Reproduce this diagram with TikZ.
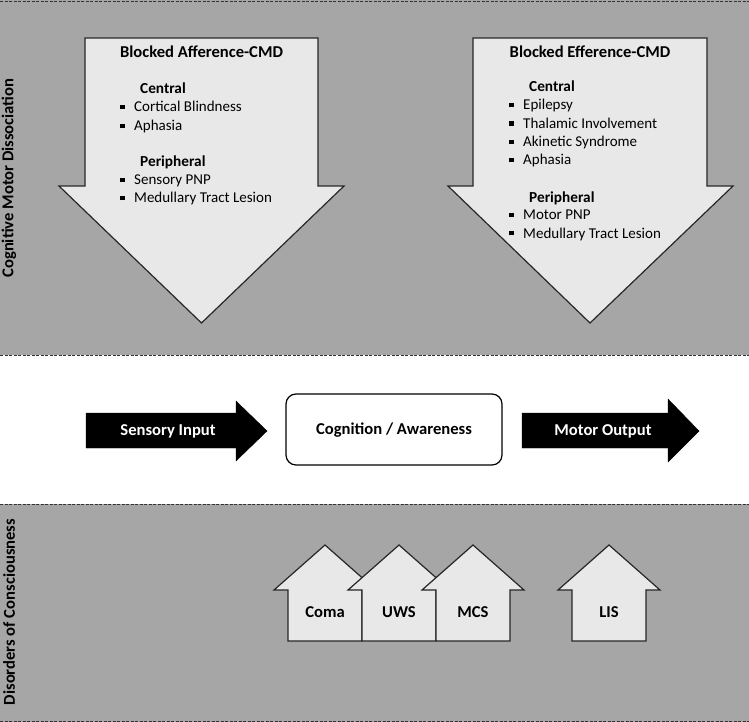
\documentclass[tikz,border=0pt]{standalone}
\usepackage{fontspec}
\setmainfont{Carlito}
\definecolor{panelgray}{RGB}{166,166,166}
\definecolor{boxgray}{RGB}{232,232,232}
\tikzset{
  blockarrow/.style={draw=black!85,fill=boxgray,line width=1.2pt,line join=miter},
  flowarrow/.style={fill=black,draw=black},
  divider/.style={black!80,line width=0.9pt,dash pattern=on 3pt off 1.5pt},
  title/.style={font=\fontsize{16.6}{18}\selectfont\bfseries,inner sep=0pt},
  subtitle/.style={font=\fontsize{15.3}{17}\selectfont\bfseries,anchor=base west,inner sep=0pt},
  item/.style={font=\fontsize{15}{17}\selectfont,anchor=base west,inner sep=0pt},
  sidelabel/.style={font=\fontsize{16.6}{18}\selectfont\bfseries,rotate=90,inner sep=0pt},
}
\newcommand{\bul}{\raisebox{2.6pt}{\rule{4.4pt}{4.4pt}}\hspace{9.6pt}}
\begin{document}
\begin{tikzpicture}[x=1pt,y=-1pt]
  \useasboundingbox (0,0) rectangle (749,722);
  % panels
  \fill[panelgray] (0,0) rectangle (749,355);
  \fill[panelgray] (0,504) rectangle (749,722);
  \draw[divider] (0,1) -- (749,1);
  \draw[divider] (0,355) -- (749,355);
  \draw[divider] (0,504) -- (749,504);
  \draw[divider] (0,721) -- (749,721);
  \node[sidelabel] (cmd) at (9,178) {Cognitive Motor Dissociation};
  \node[sidelabel] (doc) at (9,612) {Disorders of Consciousness};
  % blocked afference
  \draw[blockarrow] (85,38) -- (318,38) -- (318,186) -- (344,186) -- (201.5,323)
    -- (59,186) -- (85,186) -- cycle;
  \node[title] (aff) at (201.5,52) {Blocked Afference-CMD};
  \node[subtitle] (affc) at (140,94) {Central};
  \node[item] (aff1) at (120,112) {\bul Cortical Blindness};
  \node[item] (aff2) at (120,131) {\bul Aphasia};
  \node[subtitle] (affp) at (140,167) {Peripheral};
  \node[item] (aff3) at (120,185) {\bul Sensory PNP};
  \node[item] (aff4) at (120,203) {\bul Medullary Tract Lesion};
  % blocked efference
  \draw[blockarrow] (473,38) -- (707,38) -- (707,186) -- (733,186) -- (590,323)
    -- (448,186) -- (473,186) -- cycle;
  \node[title] (eff) at (590,52) {Blocked Efference-CMD};
  \node[subtitle] (effc) at (529,92) {Central};
  \node[item] (eff1) at (509,110) {\bul Epilepsy};
  \node[item] (eff2) at (509,128.5) {\bul Thalamic Involvement};
  \node[item] (eff3) at (509,147) {\bul Akinetic Syndrome};
  \node[item] (eff4) at (509,165) {\bul Aphasia};
  \node[subtitle] (effp) at (529,202) {Peripheral};
  \node[item] (eff5) at (509,219.5) {\bul Motor PNP};
  \node[item] (eff6) at (509,238) {\bul Medullary Tract Lesion};
  % middle row
  \fill[flowarrow] (86,413) -- (236,413) -- (236,401) -- (267,431) -- (236,461)
    -- (236,448) -- (86,448) -- cycle;
  \node[title,text=white] (sens) at (168,431) {Sensory Input};
  \draw[black,line width=1.2pt,fill=white,rounded corners=10pt] (286,394) rectangle (502,465);
  \node[title] (cog) at (394,430) {Cognition / Awareness};
  \fill[flowarrow] (522,413) -- (668,413) -- (668,399) -- (699,431) -- (668,462)
    -- (668,448) -- (522,448) -- cycle;
  \node[title,text=white] (mot) at (603,431) {Motor Output};
  % disorders of consciousness
  \foreach \cx/\name/\txt in {325/coma/Coma, 399/uws/UWS, 473/mcs/MCS, 609/lis/LIS}{
    \draw[blockarrow] (\cx-37,641) -- (\cx-37,590) -- (\cx-51,590) -- (\cx,545)
      -- (\cx+51,590) -- (\cx+37,590) -- (\cx+37,641) -- cycle;
    \node[title] (\name) at (\cx,612) {\txt};
  }
\end{tikzpicture}
\end{document}
